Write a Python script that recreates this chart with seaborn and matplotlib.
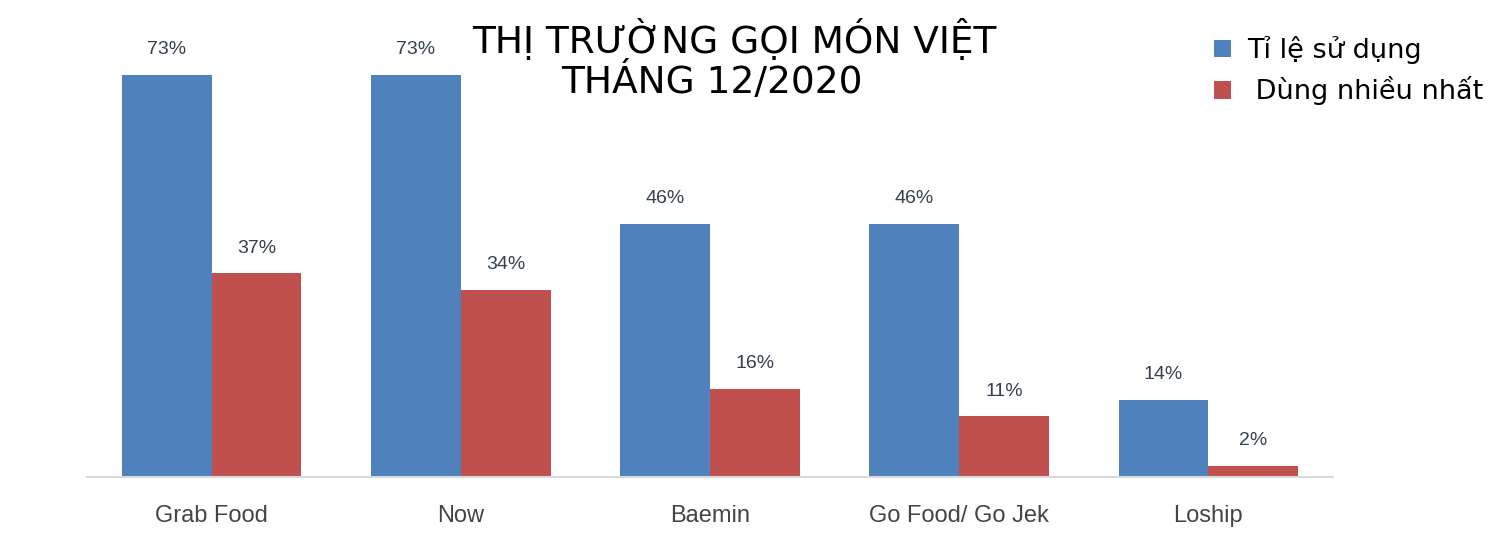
import matplotlib
matplotlib.use('Agg')
import matplotlib.pyplot as plt
import pandas as pd
import seaborn as sns

# data
platforms = ['Grab Food', 'Now', 'Baemin', 'Go Food/ Go Jek', 'Loship']
usage = [73, 73, 46, 46, 14]
most_used = [37, 34, 16, 11, 2]
series_names = ['Tỉ lệ sử dụng', ' Dùng nhiều nhất']

df = pd.DataFrame({
    'platform': platforms * 2,
    'value': usage + most_used,
    'series': [series_names[0]] * len(platforms) + [series_names[1]] * len(platforms),
})

sns.set_style('white')
plt.rcParams['font.family'] = ['DejaVu Sans']

fig = plt.figure(figsize=(14.93, 5.42), dpi=100)
ax = fig.add_axes([0.0583, 0.1199, 0.8345, 0.8129])

sns.barplot(data=df, x='platform', y='value', hue='series',
            palette=['#4F81BD', '#C0504D'], width=0.72, gap=0,
            saturation=1, linewidth=0, ax=ax)

for cont in ax.containers:
    ax.bar_label(cont, fmt='{:.0f}%', padding=12, fontsize=14,
                 color='#35404d', family='Liberation Sans')

ax.set_xlim(-0.5, 4.5)
ax.set_ylim(0, 80)
ax.set_xlabel('')
ax.set_ylabel('')
ax.set_yticks([])
ax.tick_params(axis='x', length=0, pad=20, labelsize=17, labelcolor='#444444')
for lab in ax.get_xticklabels():
    lab.set_family('Liberation Sans')
for side in ['top', 'right', 'left']:
    ax.spines[side].set_visible(False)
ax.spines['bottom'].set_color('#d9d9d9')
ax.spines['bottom'].set_linewidth(1.5)

handles, labels = ax.get_legend_handles_labels()
ax.get_legend().remove()
fig.legend(handles, labels, loc='upper left', bbox_to_anchor=(0.797, 0.978),
           frameon=False, fontsize=19.5, labelcolor='black',
           handlelength=0.6, handleheight=0.6,
           handletextpad=0.6, labelspacing=0.45)

fig.text(0.4916, 1 - 53 / 542, 'THỊ TRƯỜNG GỌI MÓN VIỆT', ha='center',
         va='baseline', fontsize=27, color='black')
fig.text(0.477, 1 - 93 / 542, 'THÁNG 12/2020', ha='center',
         va='baseline', fontsize=27, color='black')

fig.savefig('out.png', dpi=100)
